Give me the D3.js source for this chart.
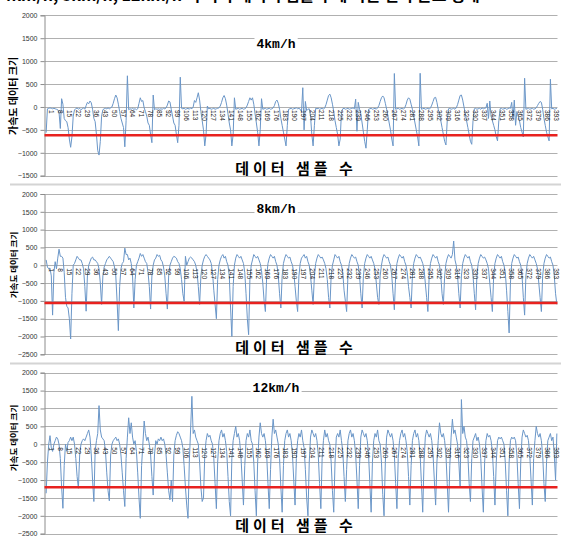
<!DOCTYPE html>
<html>
<head>
<meta charset="utf-8">
<script src="https://cdn.jsdelivr.net/npm/d3@7"></script>
<style>
  body { margin: 0; background: #fff; }
  svg { display: block; }
</style>
</head>
<body>
<svg id="chart" width="561" height="536"></svg>
<script>
// sample values, one array per speed
var speed4 = [-560,-40,-30,-20,-30,-40,-30,-40,-50,-60,-120,-470,180,60,-250,-300,-320,-450,-700,-880,
-650,-200,-60,-40,-20,-50,-30,-60,-40,-20,-50,30,100,70,130,90,-50,-250,-320,-600,
-950,-1050,-750,-200,-60,-40,-30,-40,-20,-40,-20,0,80,180,260,200,60,-100,-250,-350,
-450,-870,-300,680,-60,-40,-50,-30,-50,-40,-60,-40,80,200,120,140,-20,-100,-200,-350,
-400,-600,-780,260,-60,-40,-50,-40,-50,-40,-50,-30,-40,-20,40,130,110,-50,-200,-350,
-400,-600,-780,-400,650,-30,-40,-30,-50,-40,-30,-50,-20,-40,0,140,100,200,310,150,
-100,-300,-500,-850,-600,20,-40,-30,-50,-40,-30,-50,-40,-30,-20,20,100,200,250,180,
40,-150,-350,-500,-850,-600,200,-50,-40,-30,-50,-40,-30,-50,-40,-20,40,120,200,150,
200,60,-150,-350,-550,-850,-500,180,-50,-40,-30,-50,-40,-30,-50,-40,-20,30,120,150,
80,-50,-250,-400,-550,-700,-850,-400,-50,-40,-30,-50,-40,-30,-20,-40,-30,-50,-100,420,
-500,120,-80,-50,-40,-200,-600,-850,-400,-30,-40,-30,-50,-40,-30,-50,-20,50,150,250,
280,200,60,-100,-300,-450,-600,-850,-700,-100,-40,-30,-50,-40,-30,-50,-40,-30,-20,-40,
170,-530,100,-50,-150,-350,-550,-750,-900,-500,-50,-40,-30,-50,-40,-30,-50,-20,30,120,
200,240,200,80,-50,-200,-350,-500,-700,-850,730,-50,-40,-30,-50,-40,-30,-50,-20,50,
150,200,170,60,-50,-200,-350,-500,-650,-850,735,-50,-40,-30,-50,-40,-30,-50,-20,40,
120,200,210,100,-50,-150,-300,-450,-600,-750,-830,-300,-40,-30,-50,-40,-30,-50,-20,50,
150,250,260,150,0,-150,-300,-450,-600,-750,-815,-300,-40,-30,-50,-40,-30,-50,-20,-40,
-30,-20,80,-250,130,-200,-300,-400,-500,-650,-740,-300,-40,-30,-50,-40,-30,-50,-40,-20,
-30,100,-250,150,-400,-100,-200,-300,-450,-550,-655,627,-50,-40,-30,-50,-40,-30,-50,-40,
-20,30,80,120,100,-50,-250,-400,-550,-650,-740,605,-40,-30,-50,-40,-30];

var speed8 = [150,-50,-100,-80,-300,-1400,-200,100,-100,200,450,250,250,200,-200,-900,-1150,-1200,-1500,-2070,
-800,0,50,150,250,200,150,150,50,-100,-600,-1290,-300,0,100,200,230,150,150,100,
50,-100,-500,-1100,-300,-50,50,150,200,250,200,150,100,-50,-300,-1000,-1835,-600,-100,50,
100,480,300,300,150,200,50,-300,-1200,-400,0,100,200,330,250,300,200,100,50,-200,
-600,-1230,-300,0,150,200,300,250,280,150,100,-50,-300,-800,-1230,-300,0,100,200,250,
230,200,100,50,-100,-400,-800,-1010,250,0,100,200,230,200,150,100,0,-200,-600,-1100,
-300,0,150,250,300,250,200,150,50,-200,-700,-1100,-1500,-400,0,150,250,300,200,250,
100,0,-300,-1200,-2000,-600,0,200,300,250,200,250,150,50,-200,-800,-1500,-1950,-400,0,
150,300,250,200,250,150,50,-150,-500,-1000,-1300,-300,50,200,300,250,200,250,100,0,
-300,-800,-1200,-300,50,200,300,250,200,230,100,0,-200,-600,-1000,-1300,-300,50,200,250,
300,200,250,100,0,-300,-700,-1100,-300,50,200,300,250,200,230,150,50,-100,-400,-900,
-1200,-300,0,150,300,250,200,250,100,0,-200,-700,-1000,-1300,-300,50,200,300,250,200,
230,100,0,-300,-800,-1200,-300,50,200,300,250,200,250,150,50,-100,-500,-900,-1100,-300,
0,200,300,250,200,230,100,0,-300,-800,-1250,-300,50,200,300,250,200,250,100,0,
-200,-600,-900,-1200,-300,50,200,300,250,200,230,150,50,-100,-500,-900,-1300,-300,50,200,
300,250,200,250,100,0,-300,-800,-1100,-300,50,200,300,250,200,300,680,150,0,-300,
-800,-1200,-300,50,200,300,250,200,250,100,0,-300,-800,-1250,-300,50,200,300,250,200,
230,150,50,-100,-500,-900,-1300,-300,50,200,300,250,200,250,100,0,-200,-700,-1300,-1900,
-500,50,200,300,250,200,230,100,0,-300,-900,-1400,-300,50,200,300,250,200,250,150,
50,-100,-500,-900,-1300,-300,50,200,300,250,200,230,100,0,-300,-800,-1100];

var speed12 = [-1370,-500,0,240,-100,-200,0,100,200,150,0,-400,-1200,-1790,-600,0,-200,50,100,200,
100,200,0,-400,-900,-1230,-300,0,100,150,100,200,300,400,200,-300,-1000,-1600,-200,100,
300,1080,400,200,150,100,-200,-800,-1300,-1580,-300,0,100,150,200,100,150,0,-300,-800,
-1300,-1740,-400,200,740,300,600,200,0,100,-200,-800,-1500,-2070,-600,0,650,300,100,200,
0,-300,-900,-1420,-300,100,0,150,100,200,100,150,0,-300,-800,-1300,-1550,-1000,-1600,-300,
100,250,350,300,200,100,-100,-600,-1200,-1700,-2070,-500,400,1340,300,400,200,100,0,-500,
-1200,-1600,-1500,-300,100,300,200,250,100,0,-400,-1100,-1800,-500,100,300,400,200,300,100,
-200,-900,-1600,-2000,-400,100,300,500,200,300,100,-300,-1000,-1700,-600,100,300,200,400,100,
0,-500,-1300,-2000,-500,200,600,300,200,300,100,-300,-1100,-1800,-700,200,700,300,400,200,
0,-400,-1200,-1900,-600,100,300,400,200,300,100,-300,-1000,-1700,-400,100,300,200,400,100,
-100,-700,-1500,-2000,-500,200,400,300,200,300,100,-300,-1100,-1800,-400,100,400,200,300,100,
0,-500,-1300,-1900,-500,200,300,200,400,100,-200,-900,-1600,-700,100,300,400,200,300,100,
-300,-1000,-1800,-600,200,400,300,200,300,100,-300,-1100,-1900,-500,100,300,200,400,100,0,
-500,-1400,-2000,-500,200,400,300,200,300,100,-300,-1100,-1800,-400,100,300,400,200,300,100,
-200,-900,-1700,-600,100,300,400,200,300,100,-300,-1100,-1900,-500,200,400,300,200,300,100,
-300,-1000,-1700,-500,100,600,300,200,300,100,-300,-1100,-1900,-600,200,700,300,400,200,0,
-500,-1200,1250,300,500,200,100,-300,-1100,-1600,-400,100,200,300,100,200,0,-400,-1200,-1900,
-500,100,300,200,250,100,-200,-900,-1700,-500,100,200,150,200,100,0,-500,-1300,-2000,-500,
100,200,150,200,100,-300,-1100,-1800,-500,200,400,300,200,250,100,-300,-1000,-1700,-400,100,
500,300,200,300,100,-300,-1100,-1600,-500,100,200,300,100,200,-300,-1000,300];

var samples = d3.range(1, speed4.length + 1);
var tickLabels = samples.filter(function(d) { return (d - 1) % 7 === 0; });

var panels = [
  { title: "4km/h",  values: speed4,  limit: -620,  ticks: d3.range(-1500, 2001, 500), top: 15.3, bottom: 175.7, titleY: 48, xTitleY: 174, yTitleY: 96, yTitleSize: 10 },
  { title: "8km/h",  values: speed8,  limit: -1060, ticks: d3.range(-2500, 2001, 500), top: 194,  bottom: 354.3, titleY: 213, xTitleY: 353, yTitleY: 265, yTitleSize: 8.5 },
  { title: "12km/h", values: speed12, limit: -1200, ticks: d3.range(-2500, 2001, 500), top: 372.7, bottom: 533.7, titleY: 392, xTitleY: 531, yTitleY: 438, yTitleSize: 8.5 }
];

var svg = d3.select("#chart");
var left = 44.5, right = 557.5;

var x = d3.scaleBand().domain(samples).range([left + 1, right]);

// cut off line of the document text above the charts
svg.append("text")
  .attr("x", 2).attr("y", 1)
  .style("font-family", "'Noto Sans CJK KR', sans-serif")
  .style("font-size", "16px")
  .style("font-weight", "bold")
  .text("4km/h, 8km/h, 12km/h 의 각각 데이터 샘플 수에 따른 결과 분포 형태");

// frame lines between the chart pictures
[184.5, 363.5].forEach(function(y) {
  svg.append("line").attr("x1", 10).attr("x2", 561).attr("y1", y).attr("y2", y)
    .style("stroke", "#d4d4d4").style("stroke-width", 2);
});

panels.forEach(function(p) {
  var y = d3.scaleLinear().domain([p.ticks[0], 2000]).range([p.bottom, p.top]);
  var g = svg.append("g");

  // gridlines
  g.selectAll(".grid").data(p.ticks).enter().append("line")
    .attr("x1", left).attr("x2", right)
    .attr("y1", function(d) { return Math.round(y(d)) + 0.5; })
    .attr("y2", function(d) { return Math.round(y(d)) + 0.5; })
    .style("stroke", "#b0b0b0").style("stroke-width", 1);

  // y axis
  var yAxis = g.append("g").attr("transform", "translate(" + left + ",0)")
    .call(d3.axisLeft(y).tickValues(p.ticks).tickFormat(d3.format("d")).tickSize(4).tickPadding(3));
  yAxis.select(".domain").style("stroke", "#8c8c8c");
  yAxis.selectAll(".tick line").style("stroke", "#8c8c8c");
  yAxis.selectAll("text").style("font-family", "'Liberation Sans', sans-serif")
    .style("font-size", "7px").style("fill", "#333");

  // y axis title
  g.append("text")
    .attr("transform", "translate(17," + p.yTitleY + ") rotate(-90)")
    .attr("text-anchor", "middle")
    .style("font-family", "'Noto Sans CJK KR', sans-serif")
    .style("font-size", p.yTitleSize + "px").style("font-weight", "bold")
    .text("가속도 데이터 크기");

  // series line
  var line = d3.line()
    .x(function(d, i) { return x(samples[i]) + x.bandwidth() / 2; })
    .y(function(d) { return y(d); });
  g.append("path").datum(p.values)
    .attr("d", line)
    .style("fill", "none").style("stroke", "#6a96c8").style("stroke-width", 1);

  // category labels sit on the zero line
  var y0 = y(0);
  g.selectAll(".cat").data(tickLabels).enter().append("text")
    .attr("transform", function(d) {
      return "translate(" + (x(d) + x.bandwidth() / 2 + 2.5) + "," + (y0 + 3) + ") rotate(90)";
    })
    .attr("text-anchor", "start")
    .style("font-family", "'Liberation Sans', sans-serif")
    .style("font-size", "6.5px").style("fill", "#222")
    .text(function(d) { return d; });

  // threshold line
  g.append("line")
    .attr("x1", left).attr("x2", right)
    .attr("y1", y(p.limit)).attr("y2", y(p.limit))
    .style("stroke", "#e8221f").style("stroke-width", 2.5);

  // chart title with white box
  var t = g.append("text")
    .attr("x", 276).attr("y", p.titleY)
    .attr("text-anchor", "middle")
    .style("font-family", "'Liberation Mono', monospace")
    .style("font-size", "13px").style("font-weight", "bold")
    .text(p.title);
  var bb = t.node().getBBox();
  g.insert("rect", function() { return t.node(); })
    .attr("x", bb.x - 2).attr("y", bb.y).attr("width", bb.width + 4).attr("height", bb.height)
    .style("fill", "#fff");

  // x axis title
  g.append("text")
    .attr("x", 296).attr("y", p.xTitleY)
    .attr("text-anchor", "middle")
    .style("font-family", "'Noto Sans CJK KR', sans-serif")
    .style("font-size", "15px").style("font-weight", "bold")
    .style("letter-spacing", "4px")
    .text("데이터  샘플  수");
});
</script>
</body>
</html>
